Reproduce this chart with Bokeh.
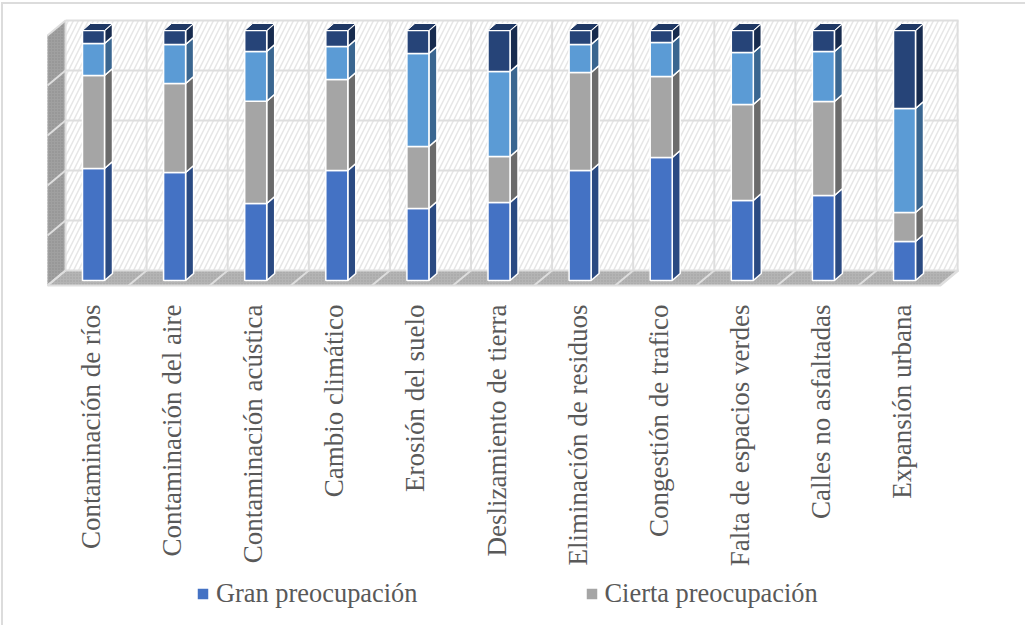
import math
import numpy as np
from bokeh.plotting import figure
from bokeh.core.properties import value
from bokeh.models import Legend, LegendItem, Range1d
from bokeh.embed import file_html
from bokeh.resources import INLINE

categories = ["Contaminación de ríos", "Contaminación del aire", "Contaminación acústica",
              "Cambio climático", "Erosión del suelo", "Deslizamiento de tierra",
              "Eliminación de residuos", "Congestión de trafico", "Falta de espacios verdes",
              "Calles no asfaltadas", "Expansión urbana"]
gran = [44.8, 43.2, 30.8, 44.0, 28.8, 31.2, 44.0, 49.2, 32.0, 34.0, 15.6]
cierta = [37.2, 35.6, 40.9, 36.4, 24.8, 18.4, 39.2, 32.4, 38.4, 37.6, 11.6]
tercera = [12.8, 15.6, 19.9, 13.2, 37.2, 34.0, 11.2, 13.6, 20.8, 20.0, 41.6]
cuarta = [5.2, 5.6, 8.4, 6.4, 9.2, 16.4, 5.6, 4.8, 8.8, 8.4, 31.2]
series_names = ["Gran preocupación", "Cierta preocupación", "", ""]
front_colors = ["#4472C4", "#A5A5A5", "#5B9BD5", "#264478"]
side_colors = ["#2A4A82", "#6B6B6B", "#3A6690", "#172B4E"]

PX_X = 81.1   # px per category
PX_Y = 2.5    # px per percent
BAR_W = 22 / PX_X
DX, DY = 8 / PX_X, 7 / PX_Y   # bar depth
x = np.arange(len(categories), dtype=float)

p = figure(frame_width=1025, frame_height=625, width=1025, height=625,
           output_backend="svg", toolbar_location=None, min_border=0,
           x_range=Range1d((0 - 93) / PX_X, (1025 - 93) / PX_X),
           y_range=Range1d((280 - 625) / PX_Y, (280 - 0) / PX_Y))
p.grid.visible = False
p.yaxis.visible = False
p.xaxis.visible = False
p.outline_line_color = None
p.background_fill_color = None
p.border_fill_color = None
# chart-area border, left and top edges
p.styles = {"box-shadow": "inset 1px 2px 0 0 #FFFFFF, inset 3px 4px 0 0 #DCDCDC"}

# 3-D room
fl, fr = (47 - 93) / PX_X, (940 - 93) / PX_X      # front edge of the floor
wl, wr = (65 - 93) / PX_X, (958 - 93) / PX_X      # back wall
fy, by, ty = -2.0, 4.0, 104.0
tfy = ty - 6
GRID = "#DEDEDE"
p.patch([wl, wr, wr, wl], [by, by, ty, ty], fill_color="white", line_color=None,
        hatch_pattern="right_diagonal_line", hatch_color="#E6E6E6", hatch_scale=10, hatch_weight=1.5)
p.patch([fl, wl, wl, fl], [fy, by, ty, tfy], fill_color="#A0A0A0", line_color=None,
        hatch_pattern="dot", hatch_color="#8C8C8C", hatch_scale=3, hatch_weight=1)
p.patch([fl, wl, wr, fr], [fy, by, by, fy], fill_color="#B4B4B4", line_color=None,
        hatch_pattern="dot", hatch_color="#A0A0A0", hatch_scale=3, hatch_weight=1)
levels = by + np.arange(0, 6) * 20
p.multi_line([[wl, wr]] * 6, [[v, v] for v in levels], line_color=GRID, line_width=2)
p.multi_line([[fl, wl]] * 6, [[v - 6, v] for v in levels], line_color=GRID, line_width=2)
vx = wl + np.arange(0, 12)
p.multi_line([[v, v] for v in vx], [[by, ty]] * 12, line_color=GRID, line_width=2)
p.multi_line([[v - (wl - fl), v] for v in vx], [[fy, by]] * 12, line_color=GRID, line_width=2)
p.line([fl, fr, wr], [fy, fy, by], line_color=GRID, line_width=2)

# stacked bars
tables = [gran, cierta, tercera, cuarta]
bottom = np.zeros(len(x))
front = []
for vals, fc, sc in zip(tables, front_colors, side_colors):
    top = bottom + np.array(vals)
    right = x + BAR_W / 2
    p.patches([[r, r + DX, r + DX, r] for r in right],
              [[b, b + DY, t + DY, t] for b, t in zip(bottom, top)],
              fill_color=sc, line_color="white", line_width=1.5)
    front.append(p.vbar(x=x, width=BAR_W, bottom=bottom, top=top,
                        fill_color=fc, line_color="white", line_width=1.5))
    bottom = top
left, right = x - BAR_W / 2, x + BAR_W / 2
p.patches([[l, r, r + DX, l + DX] for l, r in zip(left, right)],
          [[t, t, t + DY, t + DY] for t in bottom],
          fill_color="#1F3864", line_color="white", line_width=1)

# rotated category labels, hanging below the floor
p.text(x=x - 0.03, y=[(280 - 304) / PX_Y] * len(x), text=categories, angle=math.pi / 2,
       text_align="right", text_baseline="middle", text_font=value("Liberation Serif"),
       text_font_size="27px", text_color="#595959")

legend = Legend(items=[LegendItem(label=series_names[0], renderers=[front[0]]),
                       LegendItem(label=series_names[1], renderers=[front[1]])],
                orientation="horizontal", location=(195, 16),
                label_text_font="Liberation Serif", label_text_font_size="26.4px",
                label_text_color="#595959", border_line_color=None,
                background_fill_alpha=0, glyph_width=15, glyph_height=15,
                spacing=166, label_standoff=6, margin=0, padding=4)
p.add_layout(legend)

open("out.html", "w").write(file_html(p, INLINE))
